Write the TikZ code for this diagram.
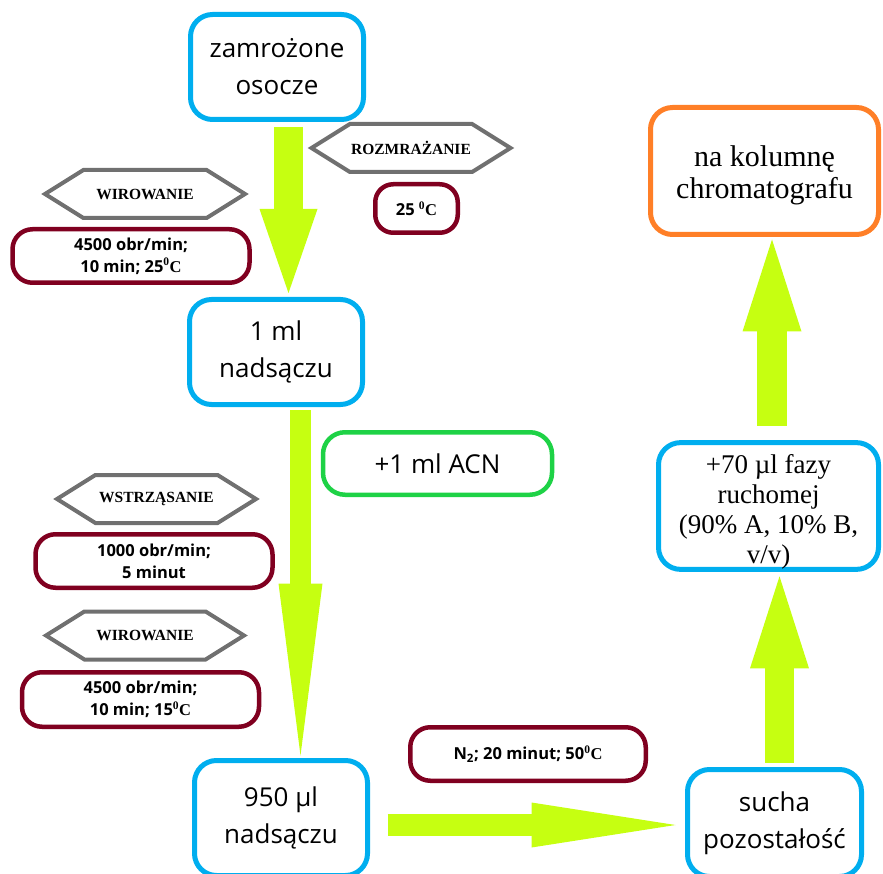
\documentclass[tikz,border=0pt]{standalone}
\usepackage{fontspec}
\setmainfont{Liberation Serif}
\newfontfamily\osans{Open Sans}
\usepackage{tikz}
\usetikzlibrary{shapes.symbols}
\usetikzlibrary{arrows.meta}

\definecolor{sampleblue}{RGB}{0,174,239}
\definecolor{condred}{RGB}{128,0,32}
\definecolor{stepgray}{RGB}{112,112,112}
\definecolor{acngreen}{RGB}{30,210,70}
\definecolor{columnorange}{RGB}{255,127,39}
\definecolor{flowlime}{RGB}{198,255,17}

\begin{document}
\begin{tikzpicture}[x=1pt,y=-1pt,
  sample/.style={draw=sampleblue,line width=5pt,rounded corners=22pt,minimum width=173pt,minimum height=105pt,inner sep=0pt,align=center,font=\osans\fontsize{26}{37}\selectfont},
  cond/.style={draw=condred,line width=4.5pt,rounded corners=20pt,minimum width=237pt,minimum height=53.5pt,inner sep=0pt,align=center,font=\osans\bfseries\fontsize{16.5}{22}\selectfont},
  stepname/.style={signal,signal to=west and east,signal pointer angle=64,draw=stepgray,line width=4pt,minimum width=199pt,minimum height=48pt,inner sep=0pt,font=\bfseries\fontsize{15.5}{17}\selectfont},
  flow/.style n args={3}{draw=flowlime,line width=#1,-{Triangle[length=#2,width=#3,line width=0pt]}}]
  \clip (0,0) rectangle (883,874);
  %left
  \node[sample] (zam) at (277,67) {zamrożone\\osocze};
  \node[stepname] (thaw) at (411,148) {ROZMRAŻANIE};
  \node[cond,minimum width=82.5pt,minimum height=48.5pt,rounded corners=18pt] (thawc) at (416.5,208.5) {25 {\rmfamily\textsuperscript{0}C}};
  \node[stepname,minimum width=200pt] (spin1) at (145,194) {WIROWANIE};
  \node[cond] (spin1c) at (131,256) {4500 obr/min;\\10 min; 25{\rmfamily\textsuperscript{0}C}};
  \node[sample] (ml) at (276,352) {1 ml\\nadsączu};
  \node[draw=acngreen,line width=4.5pt,rounded corners=22pt,minimum width=229pt,minimum height=62.5pt,inner sep=0pt,font=\osans\fontsize{26}{37}\selectfont] (acn) at (437.5,463.5) {+1 ml ACN};
  \node[stepname] (shake) at (156.5,499) {WSTRZĄSANIE};
  \node[cond] (shakec) at (154,561) {1000 obr/min;\\5 minut};
  \node[stepname,minimum width=198pt] (spin2) at (145,635.5) {WIROWANIE};
  \node[cond,minimum height=54.5pt] (spin2c) at (140.5,699.5) {4500 obr/min;\\10 min; 15{\rmfamily\textsuperscript{0}C}};
  \node[sample,minimum height=115pt] (ul) at (281,818) {950 µl\\nadsączu};

  %right
  \node[cond,minimum width=235.5pt] (dryc) at (528,754) {N\textsubscript{2}; 20 minut; 50{\rmfamily\textsuperscript{0}C}};
  \node[sample,minimum width=174pt,minimum height=107pt] (dry) at (774.5,823) {sucha\\pozostałość};
  \node[sample,minimum width=220pt,minimum height=123pt,font=\fontsize{27}{30}\selectfont] (phase) at (768.5,506) {\rule{0pt}{31pt}+70 µl fazy\\ruchomej\\(90\% A, 10\% B,\\v/v)};
  \node[sample,draw=columnorange,minimum width=228pt,minimum height=127pt,font=\fontsize{30}{32}\selectfont] (col) at (764.5,171) {\rule{0pt}{30pt}na kolumnę\\chromatografu};

  %arrows
  \draw[flow={29pt}{84pt}{58pt}] ([xshift=11.5pt,yshift=-5pt]zam.south) -- ([xshift=12.5pt,yshift=4pt]ml.north);
  \draw[flow={21pt}{172pt}{44pt}] ([xshift=24.5pt,yshift=-3pt]ml.south) -- ([xshift=19.5pt,yshift=2.5pt]ul.north);
  \draw[flow={22pt}{144pt}{45pt}] ([xshift=17.5pt,yshift=-7pt]ul.east) -- ([xshift=-9.5pt,yshift=-2pt]dry.west);
  \draw[flow={29pt}{92pt}{59pt}] ([xshift=5pt,yshift=4.5pt]dry.north) -- ([xshift=11pt,yshift=-4.5pt]phase.south);
  \draw[flow={30pt}{92pt}{59pt}] ([xshift=3.5pt,yshift=14.5pt]phase.north) -- ([xshift=7.5pt,yshift=-2.5pt]col.south);
\end{tikzpicture}
\end{document}
